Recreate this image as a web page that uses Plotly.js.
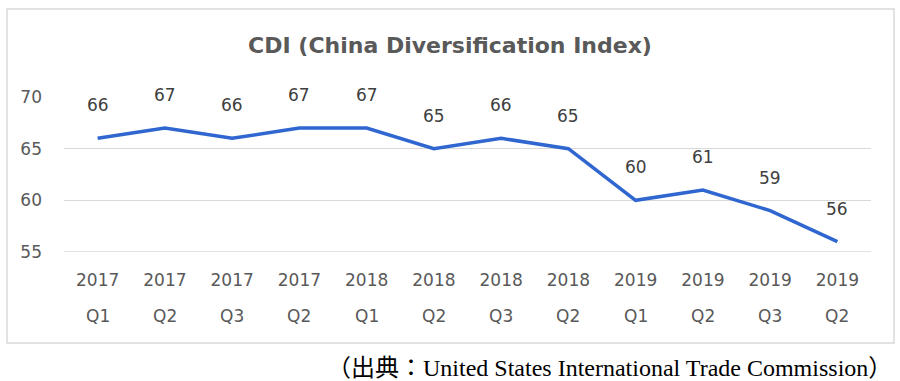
<!DOCTYPE html>
<html>
<head>
<meta charset="utf-8">
<script src="https://cdn.plot.ly/plotly-3.0.1.min.js"></script>
<style>html,body{margin:0;padding:0;background:#fff;}#chart{width:900px;height:381px;}</style>
</head>
<body>
<div id="chart"></div>
<script>
const years = ["2017","2017","2017","2017","2018","2018","2018","2018","2019","2019","2019","2019"];
const quarters = ["Q1","Q2","Q3","Q2","Q1","Q2","Q3","Q2","Q1","Q2","Q3","Q2"];
const cdi = [66,67,66,67,67,65,66,65,60,61,59,56];
const yTicks = [55,60,65,70];
const titleText = "CDI (China Diversification Index)";
const sourceText = "（出典：United States International Trade Commission）";

const idx = cdi.map((_, i) => i);

const annotations = [];
cdi.forEach((v, i) => {
  annotations.push({x: i, y: v, xref: 'x', yref: 'y', text: String(v), showarrow: false,
    yshift: 33, font: {family: 'DejaVu Sans, sans-serif', size: 17, color: '#404040'}});
});
quarters.forEach((q, i) => {
  annotations.push({x: i, y: -0.413, xref: 'x', yref: 'paper', text: q, showarrow: false,
    yanchor: 'middle', font: {family: 'DejaVu Sans, sans-serif', size: 17, color: '#595959'}});
});
annotations.push({x: 1.029, y: -0.748, xref: 'paper', yref: 'paper', xanchor: 'right', yanchor: 'middle',
  text: sourceText, showarrow: false,
  font: {family: 'Liberation Serif, Noto Sans CJK JP, serif', size: 24, color: '#000000'}});

const trace = {
  x: idx, y: cdi, type: 'scatter', mode: 'lines',
  line: {color: '#2f66cf', width: 3.5}, hoverinfo: 'skip'
};

const layout = {
  width: 900, height: 381,
  margin: {l: 64, r: 29, t: 97, b: 129},
  paper_bgcolor: '#ffffff', plot_bgcolor: '#ffffff',
  showlegend: false,
  title: {text: '<b>' + titleText + '</b>', x: 0.5, xref: 'container', xanchor: 'center',
    y: 0.882, yref: 'container', yanchor: 'middle',
    font: {family: 'DejaVu Sans, sans-serif', size: 22, color: '#595959'}},
  xaxis: {range: [-0.5, 11.5], tickvals: idx, ticktext: years, showgrid: false, zeroline: false,
    showline: false, ticks: '', ticklabelstandoff: 16,
    tickfont: {family: 'DejaVu Sans, sans-serif', size: 17, color: '#595959'}},
  yaxis: {range: [55, 70], tickvals: yTicks, showgrid: true, gridcolor: '#d9d9d9', gridwidth: 1.5,
    zeroline: false, showline: false, ticks: '', ticklabelstandoff: 21,
    tickfont: {family: 'DejaVu Sans, sans-serif', size: 17, color: '#595959'}},
  shapes: [
    {type: 'line', xref: 'paper', yref: 'y', x0: 0, x1: 1, y0: 55, y1: 55, line: {color: '#d9d9d9', width: 1.5}},
    {type: 'rect', xref: 'paper', yref: 'paper', x0: -0.0706, x1: 1.0285, y0: -0.587, y1: 1.568,
     line: {color: '#d9d9d9', width: 1.5}, fillcolor: 'rgba(0,0,0,0)', layer: 'below'}
  ],
  annotations: annotations
};

Plotly.newPlot('chart', [trace], layout, {displayModeBar: false, staticPlot: true});
</script>
</body>
</html>
